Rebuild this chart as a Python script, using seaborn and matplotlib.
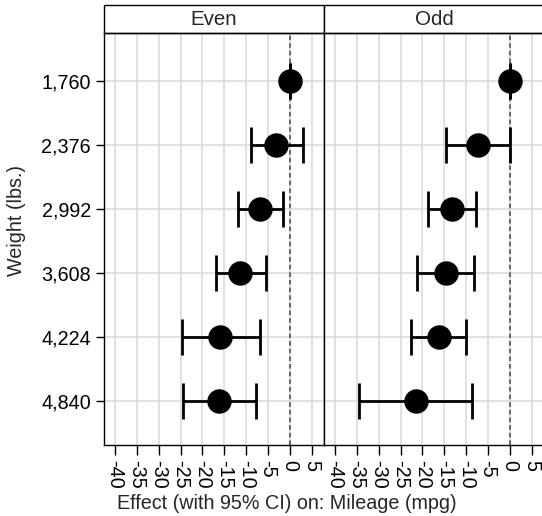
import pandas as pd
import matplotlib.pyplot as plt
import matplotlib.patches as mpatches
import seaborn as sns
import numpy as np

# Data
weights = ["1,760", "2,376", "2,992", "3,608", "4,224", "4,840"]
groups = ["Even", "Odd"]

even_est = [0, -3.1, -6.8, -11.3, -15.9, -16.2]
even_lo = [0, -9.0, -11.9, -16.9, -24.6, -24.5]
even_hi = [0, 3.1, -1.5, -5.5, -6.9, -7.7]

odd_est = [0, -7.3, -13.2, -14.6, -16.3, -21.5]
odd_lo = [0, -14.6, -18.8, -21.2, -22.7, -34.4]
odd_hi = [0, 0, -7.7, -8.1, -10.0, -8.6]

xticks = list(range(-40, 6, 5))

# Style
sns.set_style("ticks")
plt.rcParams['font.family'] = ['Liberation Sans', 'DejaVu Sans']
plt.rcParams['axes.unicode_minus'] = False
FS = 14.2

# Long-format table
rows = []
for grp, est, lo, hi in [("Even", even_est, even_lo, even_hi), ("Odd", odd_est, odd_lo, odd_hi)]:
    for i, w in enumerate(weights):
        rows.append({"group": grp, "weight": w, "pos": i, "est": est[i], "lo": lo[i], "hi": hi[i]})
df = pd.DataFrame(rows)


def draw_ci(data, **kws):
    ax = plt.gca()
    ax.axvline(0, color="#444444", lw=1.1, ls=(0, (3, 2)), zorder=2)
    ax.errorbar(data["est"], data["pos"],
                xerr=[data["est"] - data["lo"], data["hi"] - data["est"]],
                fmt="none", ecolor="black", elinewidth=2.0, capsize=13, capthick=2.0, zorder=3)
    sns.scatterplot(data=data, x="est", y="pos", color="black", s=310,
                    linewidth=0, ax=ax, zorder=4)


g = sns.FacetGrid(df, col="group", col_order=groups, height=5.16, aspect=(5.42 / 2) / 5.16,
                  sharey=True, sharex=True)
g.map_dataframe(draw_ci)
g.set_titles(col_template="")

fig = g.figure
W, H = 542, 516
top_px, bot_px = 33.3, 445
left_px, mid_px, right_px = 104, 324, 544
head_frac = 28.3 / (bot_px - top_px)

for k, ax in enumerate(g.axes.flat):
    x0 = [left_px, mid_px][k]
    x1 = [mid_px, right_px][k]
    ax.set_position([x0 / W, 1 - bot_px / H, (x1 - x0) / W, (bot_px - top_px) / H])
    ax.set_xlim(-42.5, 7.8)
    ax.set_ylim(5.69, -0.74)
    ax.set_xticks(xticks)
    ax.set_xticklabels([str(t) for t in xticks], rotation=-90, fontsize=FS)
    ax.set_yticks(range(len(weights)))
    ax.set_yticklabels(weights, fontsize=FS)
    ax.grid(True, color="#d9d9d9", lw=1.1, zorder=0)
    ax.set_axisbelow(True)
    for sp in ax.spines.values():
        sp.set_visible(True)
        sp.set_color("black")
        sp.set_linewidth(1.0)
    ax.tick_params(axis="x", length=7.5, width=1.0, pad=3, colors="black")
    ax.tick_params(axis="y", length=5.5, width=1.0, pad=4, colors="black")
    if k == 1:
        ax.tick_params(axis="y", left=False, labelleft=False)
    ax.set_xlabel("")
    ax.set_ylabel("")
    ax.set_title("")
    # panel header box
    ax.add_patch(mpatches.Rectangle((0, 1), 1, head_frac, transform=ax.transAxes,
                                    facecolor="white", edgecolor="black", lw=1.0, clip_on=False))
    ax.text(0.5, 1 + head_frac / 2, groups[k], transform=ax.transAxes,
            ha="center", va="center", fontsize=FS + 0.6)

fig.text(287 / W, 1 - 509 / H, "Effect (with 95% CI) on: Mileage (mpg)",
         ha="center", va="baseline", fontsize=FS)
fig.text(17 / W, 1 - 220 / H, "Weight (lbs.)", rotation=90,
         ha="center", va="center", fontsize=FS)

fig.set_size_inches(W / 100, H / 100)
fig.savefig("out.png", dpi=100)
